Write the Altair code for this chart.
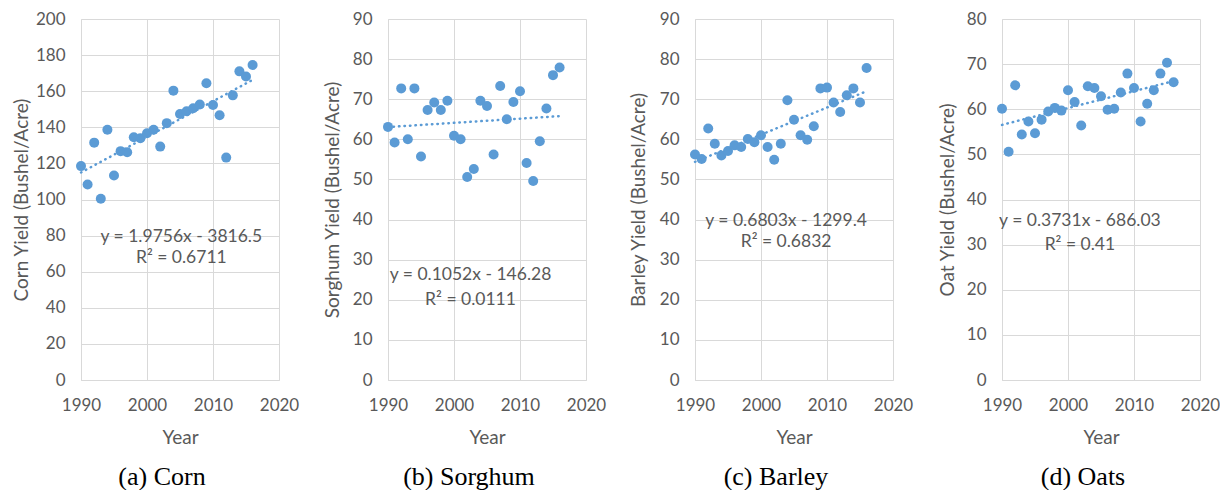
import altair as alt
import pandas as pd

years = list(range(1990, 2017))
corn = [118.5, 108.3, 131.5, 100.4, 138.6, 113.3, 126.8, 126.2, 134.5, 133.9, 136.7, 138.6, 129.3, 142.3,
        160.3, 147.4, 148.9, 150.6, 152.6, 164.4, 152.4, 146.7, 123.2, 157.7, 171.0, 168.1, 174.5]
sorghum = [63.1, 59.2, 72.7, 60.0, 72.7, 55.7, 67.3, 69.2, 67.3, 69.6, 60.9, 60.0, 50.6, 52.6,
           69.6, 68.3, 56.2, 73.3, 65.0, 69.3, 72.0, 54.1, 49.6, 59.5, 67.7, 76.0, 77.9]
barley = [56.2, 55.1, 62.7, 58.9, 56.0, 57.1, 58.5, 58.1, 60.1, 59.3, 61.0, 58.1, 54.9, 58.9,
          69.75, 64.9, 61.0, 59.9, 63.25, 72.7, 72.9, 69.2, 66.8, 71.0, 72.7, 69.2, 77.8]
oats = [60.1, 50.6, 65.3, 54.4, 57.3, 54.7, 57.7, 59.5, 60.3, 59.7, 64.2, 61.6, 56.4, 65.1,
        64.7, 62.9, 59.9, 60.1, 63.7, 67.9, 64.7, 57.3, 61.2, 64.2, 67.9, 70.3, 66.0]

series = [corn, sorghum, barley, oats]
y_titles = ["Corn Yield (Bushel/Acre)", "Sorghum Yield (Bushel/Acre)",
            "Barley Yield (Bushel/Acre)", "Oat Yield (Bushel/Acre)"]
captions = ["(a) Corn", "(b) Sorghum", "(c) Barley", "(d) Oats"]
y_max = [200, 90, 90, 80]
y_step = [20, 10, 10, 10]
x_ticks = [1990, 2000, 2010, 2020]
eq_texts = ["y = 1.9756x - 3816.5", "y = 0.1052x - 146.28", "y = 0.6803x - 1299.4", "y = 0.3731x - 686.03"]
r2_texts = ["R² = 0.6711", "R² = 0.0111", "R² = 0.6832", "R² = 0.41"]
eq_year = [2005.2, 2002.5, 2003.8, 2001.8]
eq_val = [79.4, 26.3, 39.7, 35.2]
r2_val = [67.8, 20.0, 34.5, 30.0]
title_x = [-60, -56, -57, -55]

BLUE = "#5b9bd5"
GRAY = "#595959"

panels = []
for i in range(4):
    df = pd.DataFrame({"Year": years, "Yield": series[i]})
    ann = pd.DataFrame({"Year": [eq_year[i], eq_year[i]],
                        "Yield": [eq_val[i], r2_val[i]],
                        "label": [eq_texts[i], r2_texts[i]]})
    xs = alt.X("Year:Q", scale=alt.Scale(domain=[1990, 2020], nice=False, zero=False),
               axis=alt.Axis(values=x_ticks, format="d", title="Year"))
    ys = alt.Y("Yield:Q", scale=alt.Scale(domain=[0, y_max[i]], nice=False),
               axis=alt.Axis(values=list(range(0, y_max[i] + 1, y_step[i])), title=y_titles[i],
                             titleX=title_x[i], titleBaseline="middle", tickCount=11))
    pts = alt.Chart(df).mark_circle(size=100, opacity=1, color=BLUE).encode(x=xs, y=ys)
    trend = alt.Chart(df).transform_regression("Year", "Yield").mark_line(
        color=BLUE, strokeWidth=2.5, strokeDash=[0.5, 5], strokeCap="round"
    ).encode(x=xs, y=ys)
    txt = alt.Chart(ann).mark_text(font="Lato", fontSize=17.5, color=GRAY, align="center",
                                   baseline="middle").encode(x=xs, y=ys, text="label:N")
    layer = alt.layer(pts, trend, txt).properties(
        width=198, height=361,
        title=alt.TitleParams(captions[i], orient="bottom", anchor="middle", frame="group",
                              font="Liberation Serif", fontSize=26, fontWeight="normal",
                              color="black", offset=17, dx=-18),
    )
    panels.append(layer)

chart = alt.hconcat(*panels, spacing=109, bounds="flush").properties(
    padding={"left": 4, "top": 2, "right": 0, "bottom": 0}
).configure_view(stroke=None).configure_axis(
    labelFont="Lato", labelFontSize=17, labelColor=GRAY,
    titleFont="Lato", titleFontSize=19, titleFontWeight="normal", titleColor=GRAY,
    gridColor="#d9d9d9", gridWidth=1, domainColor="#d9d9d9", domainWidth=1,
    ticks=False, tickSize=0, labelFlush=False, labelOverlap=False,
).configure_axisX(labelPadding=17, titlePadding=15).configure_axisY(labelPadding=16)

chart.save("out.html", embed_options={"renderer": "svg", "actions": False})
